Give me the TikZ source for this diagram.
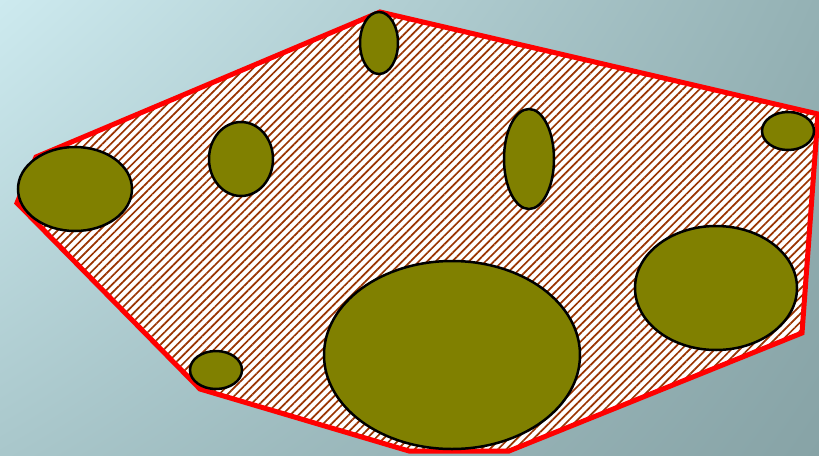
\documentclass[tikz,border=0pt]{standalone}
\usetikzlibrary{patterns.meta,shadings}
\definecolor{bgTL}{HTML}{CDEAEF}
\definecolor{bgTR}{HTML}{94B1B4}
\definecolor{bgBL}{HTML}{A9C7CB}
\definecolor{bgBR}{HTML}{87A3A6}
\definecolor{hatch}{HTML}{993300}
\definecolor{blob}{HTML}{808000}
\tikzset{
  hull/.style={draw=red, line width=5pt, line join=miter, preaction={fill=white},
    pattern={Lines[angle=45,distance=5.9pt,line width=1.7pt]}, pattern color=hatch},
  blobshape/.style={draw=black, line width=2.5pt, fill=blob}
}
\begin{document}
\begin{tikzpicture}[x=1pt,y=-1pt]
\useasboundingbox (0,0) rectangle (819,455);
\shade[upper left=bgTL, upper right=bgTR, lower left=bgBL, lower right=bgBR] (0,0) rectangle (819,455);
\draw[hull] (380,12) -- (818,114) -- (802,333) -- (509,451) -- (409,451) -- (200,389) -- (17,203) -- (36,157) -- cycle;
\path[blobshape] (75,189) ellipse [x radius=57, y radius=42];
\path[blobshape] (241,159) ellipse [x radius=32, y radius=37];
\path[blobshape] (379,43) ellipse [x radius=19, y radius=31];
\path[blobshape] (529,159) ellipse [x radius=25, y radius=50];
\path[blobshape] (788,131) ellipse [x radius=26, y radius=19];
\path[blobshape] (716,288) ellipse [x radius=81, y radius=62];
\path[blobshape] (452,355) ellipse [x radius=128, y radius=94];
\path[blobshape] (216,370) ellipse [x radius=26, y radius=19];
\end{tikzpicture}
\end{document}
